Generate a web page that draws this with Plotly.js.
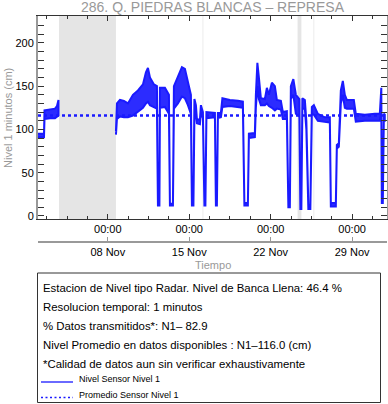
<!DOCTYPE html>
<html><head><meta charset="utf-8">
<script src="https://cdn.plot.ly/plotly-3.0.1.min.js"></script>
<style>html,body{margin:0;padding:0;background:#fff}#chart{width:388px;height:404px}</style>
</head><body><div id="chart"></div>
<script>
// ---- data ----
const times = [
'2023-11-02 00:00','2023-11-02 12:22','2023-11-02 13:24','2023-11-03 00:44','2023-11-03 11:03','2023-11-03 15:11','2023-11-03 18:16',
'2023-11-06 00:00',
'2023-11-08 16:50','2023-11-08 18:53','2023-11-09 01:05','2023-11-09 09:19','2023-11-09 17:34','2023-11-10 03:53','2023-11-10 14:11',
'2023-11-11 00:30','2023-11-11 06:41','2023-11-11 10:49','2023-11-11 14:56','2023-11-11 23:11','2023-11-12 05:22','2023-11-12 07:26',
'2023-11-12 10:31','2023-11-12 11:33','2023-11-12 21:52','2023-11-13 06:07','2023-11-13 08:10','2023-11-13 14:22','2023-11-13 16:25',
'2023-11-14 00:40','2023-11-14 08:55','2023-11-14 15:06','2023-11-14 21:17','2023-11-15 03:28','2023-11-15 05:32','2023-11-15 08:38',
'2023-11-15 10:41','2023-11-15 13:47','2023-11-15 15:50','2023-11-15 22:02','2023-11-16 00:05','2023-11-16 04:13','2023-11-16 07:18',
'2023-11-16 09:22','2023-11-16 11:26','2023-11-17 04:58','2023-11-17 07:01','2023-11-17 09:05','2023-11-17 11:08','2023-11-17 17:20',
'2023-11-17 20:25','2023-11-18 11:53','2023-11-19 04:23','2023-11-19 14:41','2023-11-19 17:47','2023-11-20 01:00','2023-11-20 03:04',
'2023-11-20 15:26','2023-11-20 17:29','2023-11-20 20:35','2023-11-20 23:41','2023-11-21 03:48','2023-11-21 12:03','2023-11-21 16:10',
'2023-11-21 20:18','2023-11-22 02:29','2023-11-22 08:40','2023-11-22 12:47','2023-11-22 21:02','2023-11-23 01:10','2023-11-23 09:25',
'2023-11-23 12:30','2023-11-23 15:36','2023-11-23 17:40','2023-11-23 22:47','2023-11-24 03:58','2023-11-24 11:13','2023-11-24 13:16',
'2023-11-24 15:20','2023-11-24 17:24','2023-11-24 22:32','2023-11-25 01:37','2023-11-25 05:45','2023-11-25 09:52','2023-11-25 12:58',
'2023-11-25 17:05','2023-11-26 01:20','2023-11-26 15:46','2023-11-27 02:04','2023-11-27 04:08','2023-11-27 14:27','2023-11-27 16:31',
'2023-11-27 20:38','2023-11-28 00:46','2023-11-28 04:53','2023-11-28 09:00','2023-11-28 13:08','2023-11-29 03:34','2023-11-29 07:41',
'2023-11-30 02:14','2023-11-30 22:52','2023-12-01 09:10','2023-12-01 12:16','2023-12-01 13:17','2023-12-01 15:21','2023-12-01 17:25',
'2023-12-01 19:29'
];
const levelLow = [
91,91,112,113,113,115,116,
null,
94,112,115,114,114,116,120,
125,130,132,128,126,124,12,
12,125,126,118,12,12,124,
130,138,136,128,118,12,12,
115,118,107,106,120,113,12,
12,113,114,12,12,113,114,
126,127,126,125,12,12,90,
91,125,150,135,128,128,130,
127,125,122,124,123,112,112,
10,10,135,140,118,115,8,
8,124,124,100,8,8,118,
117,110,109,108,11,11,78,
80,130,140,125,124,124,109,
110,110,110,120,15,15,110,
110
];
const levelHigh = [
95,95,122,123,124,127,134,
null,
98,130,134,133,130,140,145,
152,166,171,160,152,150,14,
14,148,148,140,14,14,150,
162,172,170,155,140,14,14,
135,128,112,111,128,120,14,
14,120,119,14,14,119,119,
136,134,133,132,15,15,95,
96,140,177,160,136,135,148,
140,154,150,134,133,120,121,
13,13,150,158,140,135,11,
11,136,134,110,12,12,126,
128,118,114,114,15,15,82,
84,145,156,140,134,134,118,
117,118,118,148,18,18,118,
117
];
const meanLevel = 116.0;
const meanTimes = ['2023-11-02 00:00','2023-12-01 19:29'];
const noDataStart = ['2023-11-03 19:18','2023-11-24 07:30'];
const noDataEnd   = ['2023-11-08 16:50','2023-11-24 15:20'];
const markTimes = ['2023-11-16 04:13','2023-11-25 17:05'];
const xRange = ['2023-11-02 00:00','2023-12-02 00:00'];
const tickDates = ['2023-11-08','2023-11-15','2023-11-22','2023-11-29'];
const tickHours = ['00:00','00:00','00:00','00:00'];
const tickDays = ['08 Nov','15 Nov','22 Nov','29 Nov'];
const yTicks = [0,50,100,150,200];
const titleText = '286. Q. PIEDRAS BLANCAS – REPRESA';
const infoLines = [
 'Estacion de Nivel tipo Radar. Nivel de Banca Llena: 46.4 %',
 'Resolucion temporal: 1 minutos',
 '% Datos transmitidos*: N1– 82.9',
 'Nivel Promedio en datos disponibles : N1–116.0 (cm)',
 '*Calidad de datos aun sin verificar exhaustivamente'
];
const legendLabels = ['Nivel Sensor Nivel 1','Promedio Sensor Nivel 1'];

// ---- geometry helpers (pixel -> paper) ----
const W=388,H=404,ML=38,MR=1,MT=16,MB=162;
const PW=W-ML-MR, PH=H-MT-MB;
const xp = px => (px-ML)/PW;
const yp = py => (H-MB-py)/PH;
const BLUE='#1a1aff';

// build band polygons per contiguous segment
const traces=[];
let cur=null; const segs=[];
times.forEach((t,i)=>{
  if(levelLow[i]===null){cur=null;return;}
  if(!cur){cur={x:[],lo:[],hi:[]};segs.push(cur);}
  cur.x.push(t);cur.lo.push(levelLow[i]);cur.hi.push(levelHigh[i]);
});
segs.forEach(s=>{
  traces.push({x:s.x.concat(s.x.slice().reverse()), y:s.hi.concat(s.lo.slice().reverse()),
    type:'scatter', mode:'lines', fill:'toself', fillcolor:'rgba(26,26,255,0.92)',
    line:{color:BLUE,width:2},  hoverinfo:'skip', xaxis:'x', yaxis:'y'});
});
traces.push({x:meanTimes, y:[meanLevel,meanLevel], type:'scatter', mode:'lines',
  line:{color:BLUE,width:2.5,dash:'dot'}, hoverinfo:'skip', xaxis:'x', yaxis:'y'});
traces.push({x:meanTimes, y:[meanLevel,meanLevel], type:'scatter', mode:'lines',
  line:{color:'rgba(0,0,0,0)',width:0}, hoverinfo:'skip', xaxis:'x2', yaxis:'y'});

const shapes=[];
noDataStart.forEach((s,i)=>shapes.push({type:'rect',xref:'x',yref:'y domain',x0:s,x1:noDataEnd[i],y0:0,y1:1,
  fillcolor:'#e5e5e5',line:{width:0},layer:'below'}));
markTimes.forEach(t=>shapes.push({type:'line',xref:'x',yref:'y domain',x0:t,x1:t,y0:0,y1:1,
  line:{color:'#ececec',width:1},layer:'below'}));
shapes.push({type:'rect',xref:'paper',yref:'paper',x0:xp(37.5),x1:xp(380.5),y0:yp(273),y1:yp(402.5),
  line:{color:'#333',width:1},fillcolor:'rgba(0,0,0,0)'});
shapes.push({type:'line',xref:'paper',yref:'paper',x0:xp(41),x1:xp(73),y0:yp(382),y1:yp(382),line:{color:BLUE,width:1.3}});
shapes.push({type:'line',xref:'paper',yref:'paper',x0:xp(41),x1:xp(73),y0:yp(397.5),y1:yp(397.5),line:{color:BLUE,width:1.3,dash:'2px,2.5px'}});

const annotations=[];
const rows=[288,307,326,345,364];
infoLines.forEach((t,i)=>annotations.push({text:t,xref:'paper',yref:'paper',x:xp(40.5),y:yp(rows[i]),
  xanchor:'left',yanchor:'middle',showarrow:false,font:{size:11.4,color:'#000'}}));
const lrows=[379,395];
legendLabels.forEach((t,i)=>annotations.push({text:t,xref:'paper',yref:'paper',x:xp(77),y:yp(lrows[i]),
  xanchor:'left',yanchor:'middle',showarrow:false,font:{size:9,color:'#000'}}));
annotations.push({text:'Nivel 1 minutos (cm)',xref:'paper',yref:'paper',x:xp(8),y:yp(118),textangle:-90,
  xanchor:'center',yanchor:'middle',showarrow:false,font:{size:11,color:'#999'}});
annotations.push({text:'Tiempo',xref:'paper',yref:'paper',x:0.5,y:yp(265),
  xanchor:'center',yanchor:'middle',showarrow:false,font:{size:11,color:'#999'}});

const layout={
  width:W,height:H,margin:{l:ML,r:MR,t:MT,b:MB},paper_bgcolor:'#fff',plot_bgcolor:'#fff',showlegend:false,
  font:{family:'"Liberation Sans", Arial, sans-serif',size:11,color:'#000'},
  title:{text:titleText,font:{size:14,color:'#999'},x:0.5,xref:'paper',xanchor:'center',y:1-7/H,yref:'container',yanchor:'middle'},
  xaxis:{type:'date',range:xRange,tickmode:'array',tickvals:tickDates,ticktext:tickHours,ticks:'inside',ticklen:5,
    tickcolor:'#333',showline:true,linecolor:'#333',linewidth:1,mirror:'allticks',showgrid:false,zeroline:false,
    minor:{tickmode:'linear',tick0:'2023-11-02 18:00',dtick:42*3600000,ticks:'inside',ticklen:3,tickcolor:'#333',showgrid:false},
    tickfont:{size:11,color:'#000'},fixedrange:true},
  xaxis2:{type:'date',overlaying:'x',anchor:'free',position:0,side:'bottom',range:xRange,tickmode:'array',
    tickvals:tickDates,ticktext:tickDays,ticks:'inside',ticklen:4,tickcolor:'#999',showline:true,linecolor:'#999',
    linewidth:2,showgrid:false,zeroline:false,tickfont:{size:11,color:'#000'},fixedrange:true},
  yaxis:{domain:[(H-MB-219)/PH,1],range:[-3.5,231],tickmode:'array',tickvals:yTicks,ticks:'inside',ticklen:6,
    tickcolor:'#333',showline:true,linecolor:'#999',linewidth:2,mirror:'allticks',showgrid:false,zeroline:false,
    minor:{tickmode:'linear',tick0:0,dtick:10,ticks:'inside',ticklen:3,tickcolor:'#333',showgrid:false},
    tickfont:{size:11,color:'#000'},fixedrange:true},
  shapes:shapes,annotations:annotations
};
Plotly.newPlot('chart',traces,layout,{displayModeBar:false,staticPlot:true});
</script></body></html>
